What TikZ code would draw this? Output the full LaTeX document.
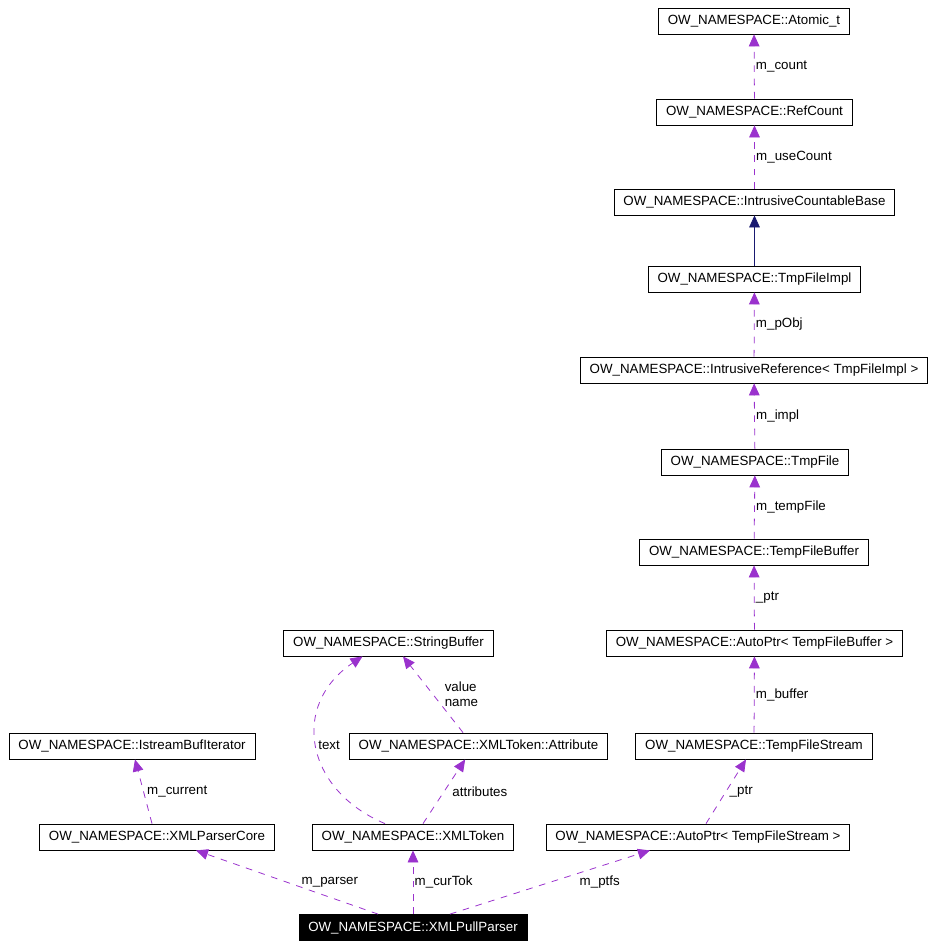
\documentclass[tikz,border=0pt]{standalone}
\usepackage{fontspec}
\setmainfont{Liberation Sans}
\usetikzlibrary{arrows.meta}
\definecolor{relcol}{RGB}{154,50,205}
\definecolor{inhcol}{RGB}{25,25,112}

\begin{document}
\begin{tikzpicture}[
    x=0.75pt, y=-0.75pt,
    box/.style={draw, line width=0.6pt, inner xsep=7pt, minimum height=19.5pt,
      font=\fontsize{10}{12}\selectfont},
    mainbox/.style={box, fill=black, text=white},
    rel/.style={-{Triangle[length=9pt, width=8pt]}, relcol, line width=0.6pt,
      dash pattern=on 5pt off 5pt},
    inh/.style={-{Triangle[length=9pt, width=8pt]}, inhcol, line width=0.6pt},
    lbl/.style={font=\fontsize{10}{11}\selectfont, text=black, inner sep=1pt, anchor=west}
  ]
    \useasboundingbox (0,0) rectangle (935,947);

    % right column
    \node[box] (atomic) at (754,21) {OW\_NAMESPACE::Atomic\_t};
    \node[box] (refcount) at (754.5,112) {OW\_NAMESPACE::RefCount};
    \node[box] (countbase) at (754.5,202) {OW\_NAMESPACE::IntrusiveCountableBase};
    \node[box] (tmpimpl) at (754.5,279) {OW\_NAMESPACE::TmpFileImpl};
    \node[box] (intref) at (754,370) {OW\_NAMESPACE::IntrusiveReference< TmpFileImpl >};
    \node[box] (tmpfile) at (755,462) {OW\_NAMESPACE::TmpFile};
    \node[box] (tfbuffer) at (754,552) {OW\_NAMESPACE::TempFileBuffer};
    \node[box] (ptrbuffer) at (754.5,643) {OW\_NAMESPACE::AutoPtr< TempFileBuffer >};
    \node[box] (tfstream) at (754,746) {OW\_NAMESPACE::TempFileStream};
    \node[box] (ptrstream) at (698,837) {OW\_NAMESPACE::AutoPtr< TempFileStream >};

    % left part
    \node[box] (strbuf) at (388.5,643) {OW\_NAMESPACE::StringBuffer};
    \node[box] (attrib) at (478.5,746) {OW\_NAMESPACE::XMLToken::Attribute};
    \node[box] (bufiter) at (132,746) {OW\_NAMESPACE::IstreamBufIterator};
    \node[box] (core) at (157,837) {OW\_NAMESPACE::XMLParserCore};
    \node[box] (token) at (413,837) {OW\_NAMESPACE::XMLToken};
    \node[mainbox] (pull) at (413,927.5) {OW\_NAMESPACE::XMLPullParser};

    \draw[rel] (refcount) -- node[lbl, pos=0.5, anchor=west] {m\_count} (atomic);
    \draw[rel] (countbase) -- node[lbl, pos=0.5] {m\_useCount} (refcount);
    \draw[inh] (tmpimpl) -- (countbase);
    \draw[rel] (intref) -- node[lbl, pos=0.5] {m\_pObj} (tmpimpl);
    \draw[rel] (tmpfile) -- node[lbl, pos=0.5] {m\_impl} (intref);
    \draw[rel] (tfbuffer) -- node[lbl, pos=0.5] {m\_tempFile} (tmpfile);
    \draw[rel] (ptrbuffer) -- node[lbl, pos=0.5] {\_ptr} (tfbuffer);
    \draw[rel] (tfstream) -- node[lbl, pos=0.5] {m\_buffer} (ptrbuffer);
    \draw[rel] ([xshift=6pt]ptrstream.north) -- node[lbl, pos=0.5, xshift=1.5pt] {\_ptr}
      ([xshift=-6pt]tfstream.south);

    \draw[rel] ([xshift=27.75pt]pull.north) -- node[lbl, pos=0.5, xshift=21pt] {m\_ptfs}
      ([xshift=-36pt]ptrstream.south);
    \draw[rel] (pull) -- node[lbl, pos=0.5] {m\_curTok} (token);
    \draw[rel] ([xshift=-26.25pt]pull.north) -- node[lbl, pos=0.5, xshift=9.75pt] {m\_parser}
      ([xshift=29.25pt]core.south);
    \draw[rel] ([xshift=-3.75pt]core.north) -- node[lbl, pos=0.5, xshift=1.5pt] {m\_current}
      ([xshift=2.25pt]bufiter.south);
    \draw[rel] ([xshift=7.5pt]token.north) -- node[lbl, pos=0.5, xshift=5pt] {attributes}
      ([xshift=-10pt]attrib.south);
    \draw[rel] ([xshift=-21pt]token.north) .. controls (305,790) and (290,705) ..
      node[lbl, pos=0.5] {text} ([xshift=-19.5pt]strbuf.south);
    \draw[rel] ([xshift=-11.6pt]attrib.north) -- node[lbl, pos=0.5, xshift=7.5pt, align=left]
      {value\\name} ([xshift=10.9pt]strbuf.south);
  \end{tikzpicture}
\end{document}
